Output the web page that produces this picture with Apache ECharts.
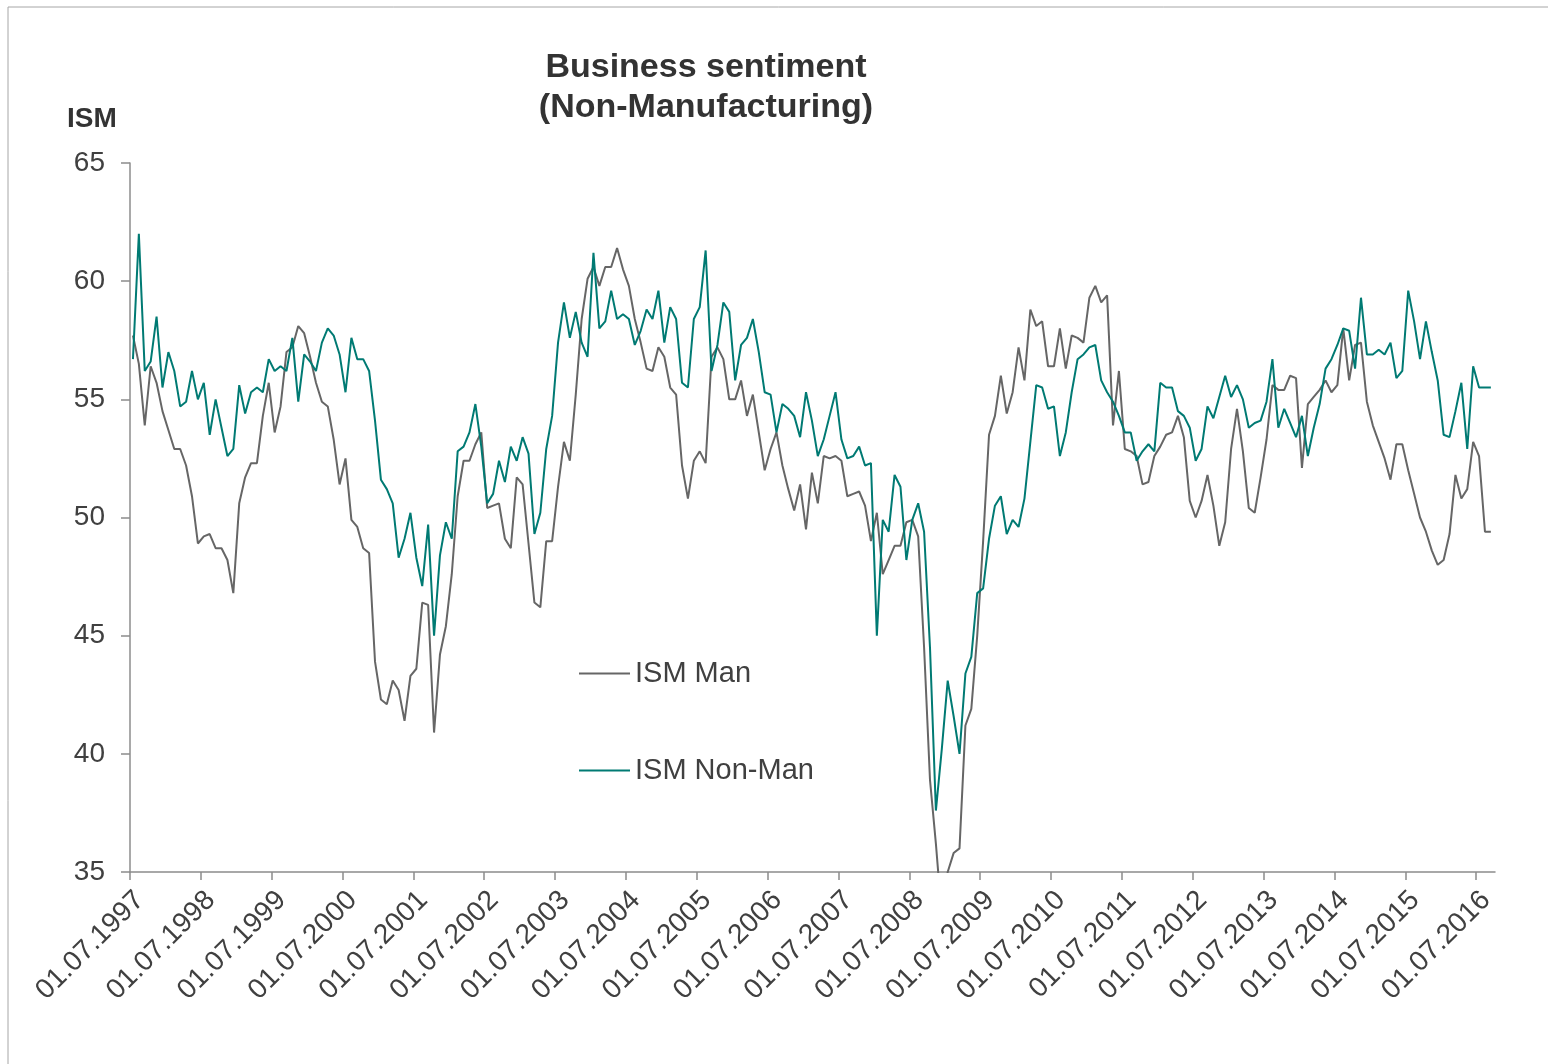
<!DOCTYPE html>
<html>
<head>
<meta charset="utf-8">
<title>Business sentiment (Non-Manufacturing)</title>
<script src="https://cdn.jsdelivr.net/npm/echarts@6/dist/echarts.min.js"></script>
<style>
    html, body { margin: 0; padding: 0; background: #fff; }
    #chart { width: 1548px; height: 1064px; }
</style>
</head>
<body>
<div id="chart"></div>
<script>
// monthly readings, first point July 1997
var tickLabels = ['01.07.1997', '01.07.1998', '01.07.1999', '01.07.2000', '01.07.2001',
    '01.07.2002', '01.07.2003', '01.07.2004', '01.07.2005', '01.07.2006', '01.07.2007',
    '01.07.2008', '01.07.2009', '01.07.2010', '01.07.2011', '01.07.2012', '01.07.2013',
    '01.07.2014', '01.07.2015', '01.07.2016'];

var ismMan = [
    57.7, 56.5, 53.9, 56.4, 55.7, 54.5, 53.7, 52.9, 52.9, 52.2, 50.9, 48.9,
    49.2, 49.3, 48.7, 48.7, 48.2, 46.8, 50.6, 51.7, 52.3, 52.3, 54.3, 55.7,
    53.6, 54.7, 57.0, 57.2, 58.1, 57.8, 56.8, 55.7, 54.9, 54.7, 53.3, 51.4,
    52.5, 49.9, 49.6, 48.7, 48.5, 43.9, 42.3, 42.1, 43.1, 42.7, 41.4, 43.3,
    43.6, 46.4, 46.3, 40.9, 44.2, 45.4, 47.6, 50.9, 52.4, 52.4, 53.1, 53.6,
    50.4, 50.5, 50.6, 49.1, 48.7, 51.7, 51.4, 48.9, 46.4, 46.2, 49.0, 49.0,
    51.3, 53.2, 52.4, 55.2, 58.4, 60.1, 60.6, 59.8, 60.6, 60.6, 61.4, 60.5,
    59.8, 58.4, 57.4, 56.3, 56.2, 57.2, 56.8, 55.5, 55.2, 52.2, 50.8, 52.4,
    52.8, 52.3, 56.8, 57.2, 56.7, 55.0, 55.0, 55.8, 54.3, 55.2, 53.6, 52.0,
    52.9, 53.6, 52.2, 51.2, 50.3, 51.4, 49.5, 51.9, 50.6, 52.6, 52.5, 52.6,
    52.4, 50.9, 51.0, 51.1, 50.5, 49.0, 50.2, 47.6, 48.2, 48.8, 48.8, 49.8,
    49.9, 49.2, 44.5, 38.9, 36.2, 33.1, 35.0, 35.8, 36.0, 41.2, 41.9, 45.0,
    49.0, 53.5, 54.3, 56.0, 54.4, 55.3, 57.2, 55.8, 58.8, 58.1, 58.3, 56.4,
    56.4, 58.0, 56.3, 57.7, 57.6, 57.4, 59.3, 59.8, 59.1, 59.4, 53.9, 56.2,
    52.9, 52.8, 52.6, 51.4, 51.5, 52.6, 53.0, 53.5, 53.6, 54.3, 53.4, 50.7,
    50.0, 50.7, 51.8, 50.5, 48.8, 49.8, 52.9, 54.6, 52.8, 50.4, 50.2, 51.7,
    53.3, 55.6, 55.4, 55.4, 56.0, 55.9, 52.1, 54.8, 55.1, 55.4, 55.8, 55.3,
    55.6, 58.0, 55.8, 57.3, 57.4, 54.9, 53.9, 53.2, 52.5, 51.6, 53.1, 53.1,
    52.0, 51.0, 50.0, 49.4, 48.6, 48.0, 48.2, 49.3, 51.8, 50.8, 51.2, 53.2,
    52.6, 49.4, 49.4
];

var ismNonMan = [
    56.7, 62.0, 56.2, 56.6, 58.5, 55.5, 57.0, 56.2, 54.7, 54.9, 56.2, 55.0,
    55.7, 53.5, 55.0, 53.8, 52.6, 52.9, 55.6, 54.4, 55.3, 55.5, 55.3, 56.7,
    56.2, 56.4, 56.2, 57.6, 54.9, 56.9, 56.6, 56.2, 57.4, 58.0, 57.7, 56.9,
    55.3, 57.6, 56.7, 56.7, 56.2, 54.1, 51.6, 51.2, 50.6, 48.3, 49.1, 50.2,
    48.3, 47.1, 49.7, 45.0, 48.4, 49.8, 49.1, 52.8, 53.0, 53.6, 54.8, 53.0,
    50.6, 51.0, 52.4, 51.5, 53.0, 52.4, 53.4, 52.7, 49.3, 50.2, 52.9, 54.3,
    57.4, 59.1, 57.6, 58.7, 57.4, 56.8, 61.2, 58.0, 58.3, 59.6, 58.4, 58.6,
    58.4, 57.3, 57.9, 58.8, 58.4, 59.6, 57.4, 58.9, 58.4, 55.7, 55.5, 58.4,
    58.9, 61.3, 56.2, 57.3, 59.1, 58.7, 55.8, 57.3, 57.6, 58.4, 57.0, 55.3,
    55.2, 53.6, 54.8, 54.6, 54.3, 53.4, 55.3, 54.1, 52.6, 53.3, 54.3, 55.3,
    53.3, 52.5, 52.6, 53.0, 52.2, 52.3, 45.0, 49.9, 49.4, 51.8, 51.3, 48.2,
    49.9, 50.6, 49.4, 44.5, 37.6, 40.2, 43.1, 41.6, 40.0, 43.4, 44.1, 46.8,
    47.0, 49.1, 50.5, 50.9, 49.3, 49.9, 49.6, 50.8, 53.2, 55.6, 55.5, 54.6,
    54.7, 52.6, 53.6, 55.3, 56.7, 56.9, 57.2, 57.3, 55.8, 55.3, 54.9, 54.3,
    53.6, 53.6, 52.4, 52.8, 53.1, 52.8, 55.7, 55.5, 55.5, 54.5, 54.3, 53.8,
    52.4, 52.9, 54.7, 54.2, 55.1, 56.0, 55.1, 55.6, 55.0, 53.8, 54.0, 54.1,
    54.9, 56.7, 53.8, 54.6, 54.0, 53.4, 54.3, 52.6, 53.8, 54.8, 56.3, 56.7,
    57.3, 58.0, 57.9, 56.3, 59.3, 56.9, 56.9, 57.1, 56.9, 57.4, 55.9, 56.2,
    59.6, 58.3, 56.7, 58.3, 57.0, 55.8, 53.5, 53.4, 54.5, 55.7, 52.9, 56.4,
    55.5, 55.5, 55.5
];

function toPoints(values) {
    var pts = [];
    for (var i = 0; i < values.length; i++) {
        // each month sits in the middle of its slot
        pts.push([i + 0.5, values[i]]);
    }
    return pts;
}

function yearTicks() {
    var t = [];
    for (var k = 0; k < tickLabels.length; k++) t.push(k * 12);
    return t;
}

var fontName = '"Liberation Sans", Arial, sans-serif';
var textColor = '#404040';
var axisColor = '#8c8c8c';

var chart = echarts.init(document.getElementById('chart'));

var option = {
    animation: false,
    backgroundColor: '#ffffff',
    textStyle: { fontFamily: fontName },
    graphic: [{
        type: 'rect',
        shape: { x: 8, y: 7, width: 1700, height: 1200 },
        style: { fill: 'none', stroke: '#a6a6a6', lineWidth: 1 },
        silent: true
    }, {
        type: 'text',
        x: 706,
        y: 48,
        style: {
            text: 'Business sentiment\n(Non-Manufacturing)',
            align: 'center',
            verticalAlign: 'top',
            font: 'bold 34px ' + fontName,
            lineHeight: 40,
            fill: '#333333'
        }
    }, {
        type: 'text',
        x: 67,
        y: 105,
        style: {
            text: 'ISM',
            align: 'left',
            verticalAlign: 'top',
            font: 'bold 28px ' + fontName,
            fill: '#333333'
        }
    }],
    grid: {
        left: 130,
        right: 53,
        top: 163,
        bottom: 192,
        containLabel: false
    },
    legend: {
        orient: 'vertical',
        left: 574,
        top: 654,
        itemGap: 68,
        itemWidth: 51,
        itemHeight: 2,
        icon: 'rect',
        textStyle: { fontSize: 29, color: textColor, fontFamily: fontName },
        data: ['ISM Man', 'ISM Non-Man']
    },
    xAxis: {
        type: 'value',
        min: 0,
        max: 231.2,
        interval: 12,
        splitLine: { show: false },
        axisLine: { lineStyle: { color: axisColor, width: 1.5 } },
        axisTick: {
            customValues: yearTicks(),
            length: 8,
            lineStyle: { color: axisColor, width: 1.5 }
        },
        axisLabel: {
            customValues: yearTicks(),
            rotate: 45,
            margin: 14,
            align: 'right',
            verticalAlign: 'top',
            fontSize: 28,
            color: textColor,
            fontFamily: fontName,
            formatter: function (v) {
                var k = Math.round(v / 12);
                return tickLabels[k] || '';
            }
        }
    },
    yAxis: {
        type: 'value',
        min: 35,
        max: 65,
        interval: 5,
        splitLine: { show: false },
        axisLine: { show: true, lineStyle: { color: axisColor, width: 1.5 } },
        axisTick: { show: true, length: 9, lineStyle: { color: axisColor, width: 1.5 } },
        axisLabel: { fontSize: 28, color: textColor, margin: 25, fontFamily: fontName }
    },
    series: [{
        name: 'ISM Man',
        type: 'line',
        data: toPoints(ismMan),
        symbol: 'none',
        clip: true,
        lineStyle: { color: '#666666', width: 2 },
        itemStyle: { color: '#666666' },
        z: 2
    }, {
        name: 'ISM Non-Man',
        type: 'line',
        data: toPoints(ismNonMan),
        symbol: 'none',
        clip: true,
        lineStyle: { color: '#007a73', width: 2 },
        itemStyle: { color: '#007a73' },
        z: 3
    }]
};

chart.setOption(option);
</script>
</body>
</html>
